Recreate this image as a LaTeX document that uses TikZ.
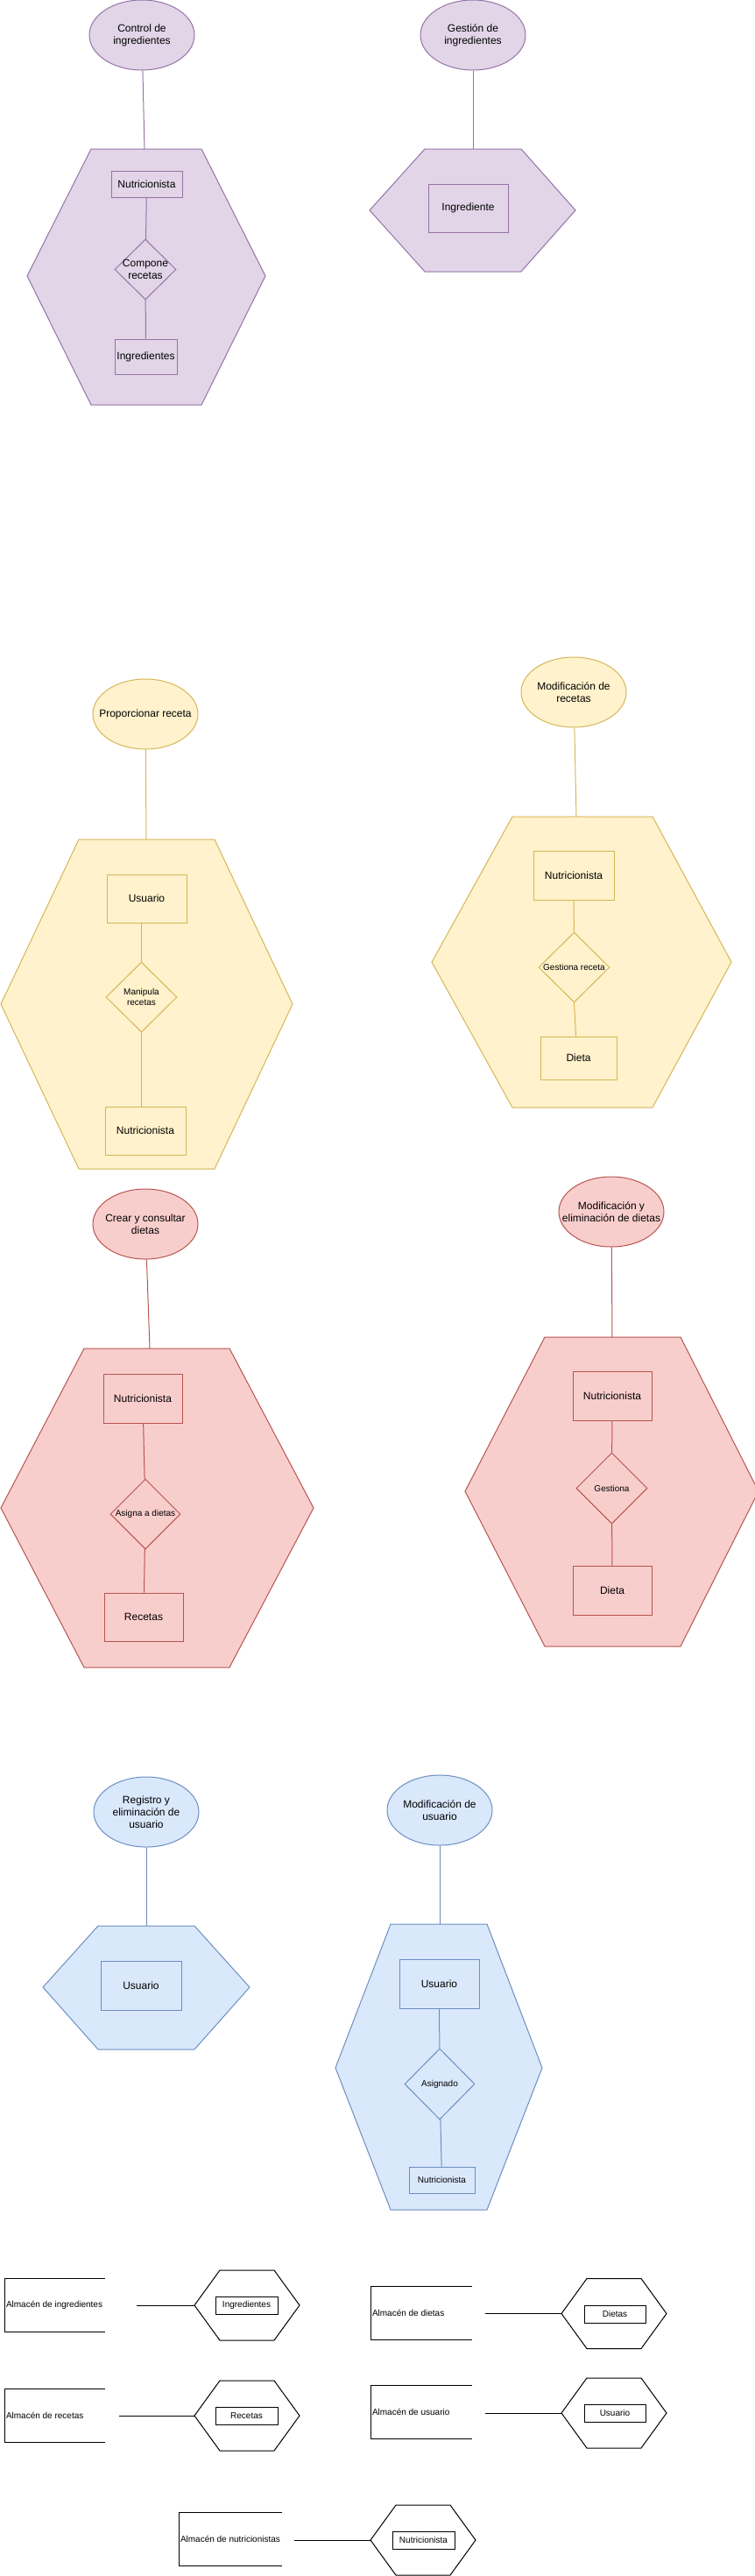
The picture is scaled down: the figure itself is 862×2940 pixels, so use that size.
\documentclass[tikz,border=0pt]{standalone}
\usepackage{fontspec}
\setmainfont{Liberation Sans}
\usetikzlibrary{shapes.geometric}
\definecolor{pfill}{HTML}{E1D5E7}\definecolor{pstroke}{HTML}{9673A6}
\definecolor{yfill}{HTML}{FFF2CC}\definecolor{ystroke}{HTML}{D6B656}
\definecolor{rfill}{HTML}{F8CECC}\definecolor{rstroke}{HTML}{B85450}
\definecolor{bfill}{HTML}{DAE8FC}\definecolor{bstroke}{HTML}{6C8EBF}
\newcommand{\storehex}[3]{%
  \filldraw[bk] (#2,#3) -- ({#2+29},{#3-40}) -- ({#2+91},{#3-40}) -- ({#2+120},#3)
    -- ({#2+91},{#3+40}) -- ({#2+29},{#3+40}) -- cycle;
  \coordinate (#1) at (#2,#3);}
\begin{document}
\begin{tikzpicture}[x=1pt,y=-1pt,
  every node/.style={font=\fontsize{12}{14}\selectfont, text=black},
  smalltxt/.style={font=\fontsize{10}{12}\selectfont},
  pu/.style={draw=pstroke, fill=pfill, line width=1pt},
  ye/.style={draw=ystroke, fill=yfill, line width=1pt},
  re/.style={draw=rstroke, fill=rfill, line width=1pt},
  bl/.style={draw=bstroke, fill=bfill, line width=1pt},
  bk/.style={draw=black, fill=white, line width=1pt},
  pucon/.style={draw=pstroke, line width=1pt},
  yecon/.style={draw=ystroke, line width=1pt},
  recon/.style={draw=rstroke, line width=1pt},
  blcon/.style={draw=bstroke, line width=1pt},
  bkline/.style={draw=black, line width=1pt},
  ent/.style={rectangle, inner sep=0pt},
  proc/.style={ellipse, minimum width=120pt, minimum height=80pt, inner sep=0pt},
  rel/.style={diamond, inner sep=0pt},
  lbl/.style={align=center},
  slbl/.style={align=center, smalltxt},
  store/.style={rectangle, inner sep=0pt, minimum height=60pt}
]
\useasboundingbox (0,0) rectangle (862,2940);

% ---------- Purple: Control de ingredientes ----------
\filldraw[pu] (104,170) -- (230,170) -- (303,315) -- (230,462) -- (104,462) -- (31,315) -- cycle;
\coordinate (p1top) at (165,170);
\node[proc, pu, label={[lbl]center:{Control de\\ingredientes}}] (p1e) at (162,40) {};
\node[ent, pu, minimum width=81pt, minimum height=30pt] (p1n) at (167.5,210) {Nutricionista};
\node[rel, pu, minimum width=70pt, minimum height=69pt, label={[lbl]center:{Compone\\recetas}}] (p1d) at (166,307.5) {};
\node[ent, pu, minimum width=71pt, minimum height=40pt] (p1i) at (166.5,407) {Ingredientes};
\draw[pucon] (p1e) -- (p1top);
\draw[pucon] (p1n) -- (p1d);
\draw[pucon] (p1d) -- (p1i);

% ---------- Purple: Gestion de ingredientes ----------
\filldraw[pu] (485,170) -- (595,170) -- (657,240) -- (595,310) -- (485,310) -- (422,240) -- cycle;
\coordinate (p2top) at (540,170);
\node[proc, pu, label={[lbl]center:{Gestión de\\ingredientes}}] (p2e) at (540,40) {};
\node[ent, pu, minimum width=91pt, minimum height=55pt] (p2i) at (534.5,237.5) {Ingrediente};
\draw[pucon] (p2e) -- (p2top);

% ---------- Yellow: Proporcionar receta ----------
\filldraw[ye] (90,958) -- (245,958) -- (334,1146) -- (245,1334) -- (90,1334) -- (1,1146) -- cycle;
\coordinate (y1top) at (167,958);
\node[proc, ye, label={[lbl]center:{Proporcionar receta}}] (y1e) at (166,815) {};
\node[ent, ye, minimum width=91pt, minimum height=55pt] (y1u) at (167.5,1025.5) {Usuario};
\node[rel, ye, minimum width=81pt, minimum height=80pt, label={[slbl]center:{Manipula\\recetas}}] (y1d) at (161.5,1138) {};
\node[ent, ye, minimum width=92pt, minimum height=55pt] (y1n) at (166,1290.5) {Nutricionista};
\draw[yecon] (y1e) -- (y1top);
\draw[yecon] (y1u.south -| y1d.north) -- (y1d.north);
\draw[yecon] (y1d.south) -- (y1d.south |- y1n.north);

% ---------- Yellow: Modificacion de recetas ----------
\filldraw[ye] (585,932) -- (745,932) -- (835,1098) -- (745,1264) -- (585,1264) -- (493,1098) -- cycle;
\coordinate (y2top) at (658,932);
\node[proc, ye, label={[lbl]center:{Modificación de\\recetas}}] (y2e) at (655,790) {};
\node[ent, ye, minimum width=92pt, minimum height=56pt] (y2n) at (655,999) {Nutricionista};
\node[rel, ye, minimum width=81pt, minimum height=80pt, label={[slbl]center:{Gestiona receta}}] (y2d) at (655.5,1104) {};
\node[ent, ye, minimum width=87pt, minimum height=49pt] (y2t) at (660.5,1207.5) {Dieta};
\draw[yecon] (y2e) -- (y2top);
\draw[yecon] (y2n) -- (y2d);
\draw[yecon] (y2d.south) -- ([xshift=-3pt]y2t.north);

% ---------- Red: Crear y consultar dietas ----------
\filldraw[re] (96,1539) -- (262,1539) -- (358,1721) -- (262,1903) -- (96,1903) -- (1,1721) -- cycle;
\coordinate (r1top) at (171,1539);
\node[proc, re, label={[lbl]center:{Crear y consultar\\dietas}}] (r1e) at (166,1397) {};
\node[ent, re, minimum width=90pt, minimum height=56pt] (r1n) at (163,1596) {Nutricionista};
\node[rel, re, minimum width=80pt, minimum height=80pt, label={[slbl]center:{Asigna a dietas}}] (r1d) at (166,1728) {};
\node[ent, re, minimum width=90pt, minimum height=55pt] (r1r) at (164,1845.5) {Recetas};
\draw[recon] (r1e) -- (r1top);
\draw[recon] (r1n) -- (r1d);
\draw[recon] (r1d) -- (r1r);

% ---------- Red: Modificacion y eliminacion de dietas ----------
\filldraw[re] (622,1526) -- (777,1526) -- (866,1702) -- (777,1879) -- (622,1879) -- (531,1702) -- cycle;
\coordinate (r2top) at (699,1526);
\node[proc, re, label={[lbl]center:{Modificación y\\eliminación de dietas}}] (r2e) at (698,1383) {};
\node[ent, re, minimum width=90pt, minimum height=56pt] (r2n) at (699,1593) {Nutricionista};
\node[rel, re, minimum width=81pt, minimum height=81pt, label={[slbl]center:{Gestiona}}] (r2d) at (698.5,1698.5) {};
\node[ent, re, minimum width=90pt, minimum height=56pt] (r2t) at (699,1815) {Dieta};
\draw[recon] (r2e) -- (r2top);
\draw[recon] (r2n) -- (r2d);
\draw[recon] (r2d) -- (r2t);

% ---------- Blue: Registro y eliminacion de usuario ----------
\filldraw[bl] (112,2198) -- (222,2198) -- (285,2268) -- (222,2339) -- (112,2339) -- (49,2268) -- cycle;
\coordinate (b1top) at (167,2198);
\node[proc, bl, label={[lbl]center:{Registro y\\eliminación de\\usuario}}] (b1e) at (167,2068) {};
\node[ent, bl, minimum width=92pt, minimum height=56pt] (b1u) at (161,2266) {Usuario};
\draw[blcon] (b1e) -- (b1top);

% ---------- Blue: Modificacion de usuario ----------
\filldraw[bl] (446,2196) -- (556,2196) -- (619,2360) -- (556,2522) -- (446,2522) -- (383,2360) -- cycle;
\coordinate (b2top) at (502,2196);
\node[proc, bl, label={[lbl]center:{Modificación de\\usuario}}] (b2e) at (502,2066) {};
\node[ent, bl, minimum width=91pt, minimum height=56pt] (b2u) at (501.5,2264) {Usuario};
\node[rel, bl, minimum width=80pt, minimum height=81pt, label={[slbl]center:{Asignado}}] (b2d) at (502,2378.5) {};
\node[ent, bl, smalltxt, minimum width=75pt, minimum height=30pt] (b2n) at (504.5,2488) {Nutricionista};
\draw[blcon] (b2e) -- (b2top);
\draw[blcon] (b2u) -- (b2d);
\draw[blcon] (b2d) -- (b2n);

% ---------- Stores ----------
% Almacen de ingredientes
\node[store, minimum width=114pt, label={[anchor=west, inner sep=1pt, smalltxt]west:{Almacén de ingredientes}}] (s1) at (63,2631) {};
\draw[bkline] (s1.north east) -- (s1.north west) -- (s1.south west) -- (s1.south east);
\storehex{h1}{222}{2631}
\node[ent, bk, smalltxt, minimum width=71pt, minimum height=20pt] (h1r) at (281.5,2631) {Ingredientes};
\coordinate (s1c) at (156,2631);
\draw[bkline] (s1c) -- (h1);

% Almacen de recetas
\node[store, minimum width=114pt, label={[anchor=west, inner sep=1pt, smalltxt]west:{Almacén de recetas}}] (s2) at (63,2757) {};
\draw[bkline] (s2.north east) -- (s2.north west) -- (s2.south west) -- (s2.south east);
\storehex{h2}{222}{2757}
\node[ent, bk, smalltxt, minimum width=71pt, minimum height=20pt] (h2r) at (281.5,2757) {Recetas};
\coordinate (s2c) at (136,2757);
\draw[bkline] (s2c) -- (h2);

% Almacen de dietas
\node[store, minimum width=115pt, label={[anchor=west, inner sep=1pt, smalltxt]west:{Almacén de dietas}}] (s3) at (481.5,2640) {};
\draw[bkline] (s3.north east) -- (s3.north west) -- (s3.south west) -- (s3.south east);
\storehex{h3}{641}{2640.5}
\node[ent, bk, smalltxt, minimum width=70pt, minimum height=20pt] (h3r) at (702,2641) {Dietas};
\coordinate (s3c) at (554,2640.5);
\draw[bkline] (s3c) -- (h3);

% Almacen de usuario
\node[store, minimum width=115pt, label={[anchor=west, inner sep=1pt, smalltxt]west:{Almacén de usuario}}] (s4) at (481.5,2753) {};
\draw[bkline] (s4.north east) -- (s4.north west) -- (s4.south west) -- (s4.south east);
\storehex{h4}{641}{2754}
\node[ent, bk, smalltxt, minimum width=70pt, minimum height=20pt] (h4r) at (702,2754) {Usuario};
\coordinate (s4c) at (554,2754);
\draw[bkline] (s4c) -- (h4);

% Almacen de nutricionistas
\node[store, minimum width=117pt, label={[anchor=west, inner sep=1pt, smalltxt]west:{Almacén de nutricionistas}}] (s5) at (263.5,2898) {};
\draw[bkline] (s5.north east) -- (s5.north west) -- (s5.south west) -- (s5.south east);
\storehex{h5}{423}{2899}
\node[ent, bk, smalltxt, minimum width=71pt, minimum height=20pt] (h5r) at (483.5,2899) {Nutricionista};
\coordinate (s5c) at (336,2899);
\draw[bkline] (s5c) -- (h5);
\end{tikzpicture}
\end{document}
